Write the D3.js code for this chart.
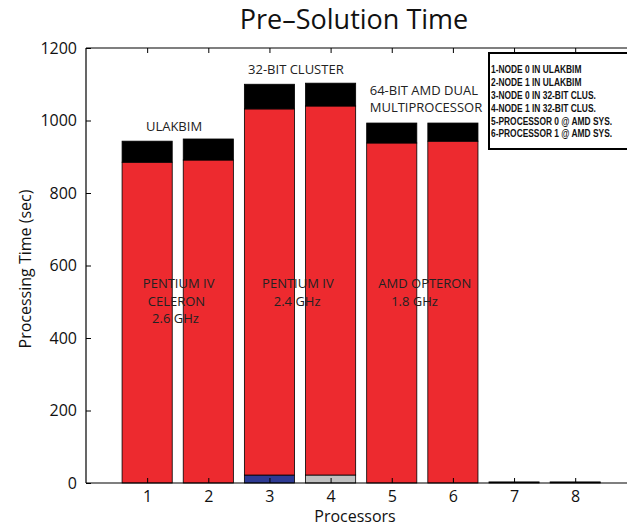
<!DOCTYPE html>
<html>
<head>
<meta charset="utf-8">
<script src="https://cdn.jsdelivr.net/npm/d3@7"></script>
<style>
  body { margin: 0; background: #fff; }
  text { font-family: "Open Sans", "Noto Sans", sans-serif; fill: #111; }
  .note { fill: #222; font-size: 13px; }
  .legend text { font-family: "Liberation Sans", Arial, sans-serif; font-weight: bold; font-size: 10px; fill: #111; }
</style>
</head>
<body>
<div id="chart"></div>
<script>
// Pre-solution time per processor (seconds), stacked segments
const processors = [1, 2, 3, 4, 5, 6, 7, 8];
const baseTime = [0, 0, 22, 22, 0, 0, 0, 0];          // blue / gray base (bars 3, 4)
const mainTime = [885, 891, 1010, 1018, 938, 943, 0, 0]; // red segment
const topTime = [58, 58, 68, 63, 55, 50, 3, 3];         // black segment
const yTicks = [0, 200, 400, 600, 800, 1000, 1200];

const legendLines = [
    "1-NODE 0 IN ULAKBIM",
    "2-NODE 1 IN ULAKBIM",
    "3-NODE 0 IN 32-BIT CLUS.",
    "4-NODE 1 IN 32-BIT CLUS.",
    "5-PROCESSOR 0 @ AMD SYS.",
    "6-PROCESSOR 1 @ AMD SYS."
];

// annotations placed in data coordinates, like text(x, y, ...)
const noteText = ["ULAKBIM", "32-BIT CLUSTER", "64-BIT AMD DUAL", "MULTIPROCESSOR",
    "PENTIUM IV", "CELERON", "2.6 GHz", "PENTIUM IV", "2.4 GHz", "AMD OPTERON", "1.8 GHz"];
const noteX = [0.98, 2.65, 4.64, 4.64, 0.93, 1.01, 1.08, 2.88, 3.07, 4.78, 4.99];
const noteY = [971, 1128, 1070, 1023, 538, 488, 441, 538, 488, 538, 488];

const width = 627, height = 528;
const margin = {top: 48, left: 86, bottom: 45};
const step = 61.15; // px per processor

const svg = d3.select("#chart").append("svg")
    .attr("width", width)
    .attr("height", height);

// x axis runs past the right edge of the window (figure is cropped)
const x = d3.scaleLinear().domain([0, 9]).range([margin.left, margin.left + 9 * step]);
const y = d3.scaleLinear().domain([0, 1200]).range([height - margin.bottom, margin.top]);

const barW = x(0.82) - x(0);
const baseColor = {3: "#2e3a93", 4: "#c0c0c0"};

// Stack the segments
const segments = [];
processors.forEach((p, i) => {
    const b = baseTime[i], m = mainTime[i], t = topTime[i];
    if (b > 0) segments.push({p, y0: 0, y1: b, fill: baseColor[p]});
    if (m > 0) segments.push({p, y0: b, y1: b + m, fill: "#ed2a2f"});
    if (t > 0) segments.push({p, y0: b + m, y1: b + m + t, fill: "#000"});
});

svg.append("g")
    .selectAll("rect")
    .data(segments)
    .enter()
    .append("rect")
    .attr("x", d => x(d.p) - barW / 2)
    .attr("y", d => y(d.y1))
    .attr("width", barW)
    .attr("height", d => y(d.y0) - y(d.y1))
    .attr("fill", d => d.fill)
    .attr("stroke", "#000")
    .attr("stroke-width", 0.8);

// Axes (ticks inside, MATLAB style)
const xAxis = d3.axisBottom(x).tickValues(processors).tickSize(-5).tickPadding(8);
svg.append("g")
    .attr("transform", `translate(0,${y(0)})`)
    .call(xAxis)
    .call(g => g.select(".domain").attr("d", `M${x(0)},0H${width + 10}`).attr("stroke-width", 1.2))
    .call(g => g.selectAll(".tick text").style("font-size", "16px").attr("fill", "#111"));

svg.append("g")
    .attr("transform", `translate(0,${y(1200)})`)
    .call(d3.axisTop(x).tickValues(processors).tickSize(-5).tickFormat(""))
    .call(g => g.select(".domain").attr("d", `M${x(0)},0H${width + 10}`).attr("stroke-width", 1.2));

const yAxis = d3.axisLeft(y).tickValues(yTicks).tickSize(-5).tickPadding(9).tickFormat(d3.format("d"));
svg.append("g")
    .attr("transform", `translate(${x(0)},0)`)
    .call(yAxis)
    .call(g => g.select(".domain").attr("d", `M0,${y(0)}V${y(1200)}`).attr("stroke-width", 1.2))
    .call(g => g.selectAll(".tick text").style("font-size", "16px").attr("fill", "#111"));

// Annotations
svg.append("g")
    .selectAll("text")
    .data(noteText)
    .enter()
    .append("text")
    .attr("class", "note")
    .attr("x", (d, i) => x(noteX[i]))
    .attr("y", (d, i) => y(noteY[i]))
    .text(d => d);

// Title and labels
svg.append("text")
    .attr("x", 354)
    .attr("y", 29)
    .attr("text-anchor", "middle")
    .style("font-size", "27px")
    .text("Pre\u2013Solution Time");

svg.append("text")
    .attr("x", 355)
    .attr("y", 522)
    .attr("text-anchor", "middle")
    .style("font-size", "16px")
    .text("Processors");

svg.append("text")
    .attr("transform", "translate(31,269) rotate(-90)")
    .attr("text-anchor", "middle")
    .style("font-size", "16px")
    .text("Processing Time (sec)");

// Legend box
const legend = svg.append("g").attr("class", "legend");
legend.append("rect")
    .attr("x", 489)
    .attr("y", 53)
    .attr("width", 160)
    .attr("height", 96)
    .attr("fill", "#fff")
    .attr("stroke", "#000")
    .attr("stroke-width", 2);

// narrow bold face: squeeze the lines horizontally
legend.append("g")
    .attr("transform", "translate(491,0) scale(0.84,1)")
    .selectAll("text")
    .data(legendLines)
    .enter()
    .append("text")
    .attr("x", 0)
    .attr("y", (d, i) => 73 + i * 12.9)
    .text(d => d);
</script>
</body>
</html>
